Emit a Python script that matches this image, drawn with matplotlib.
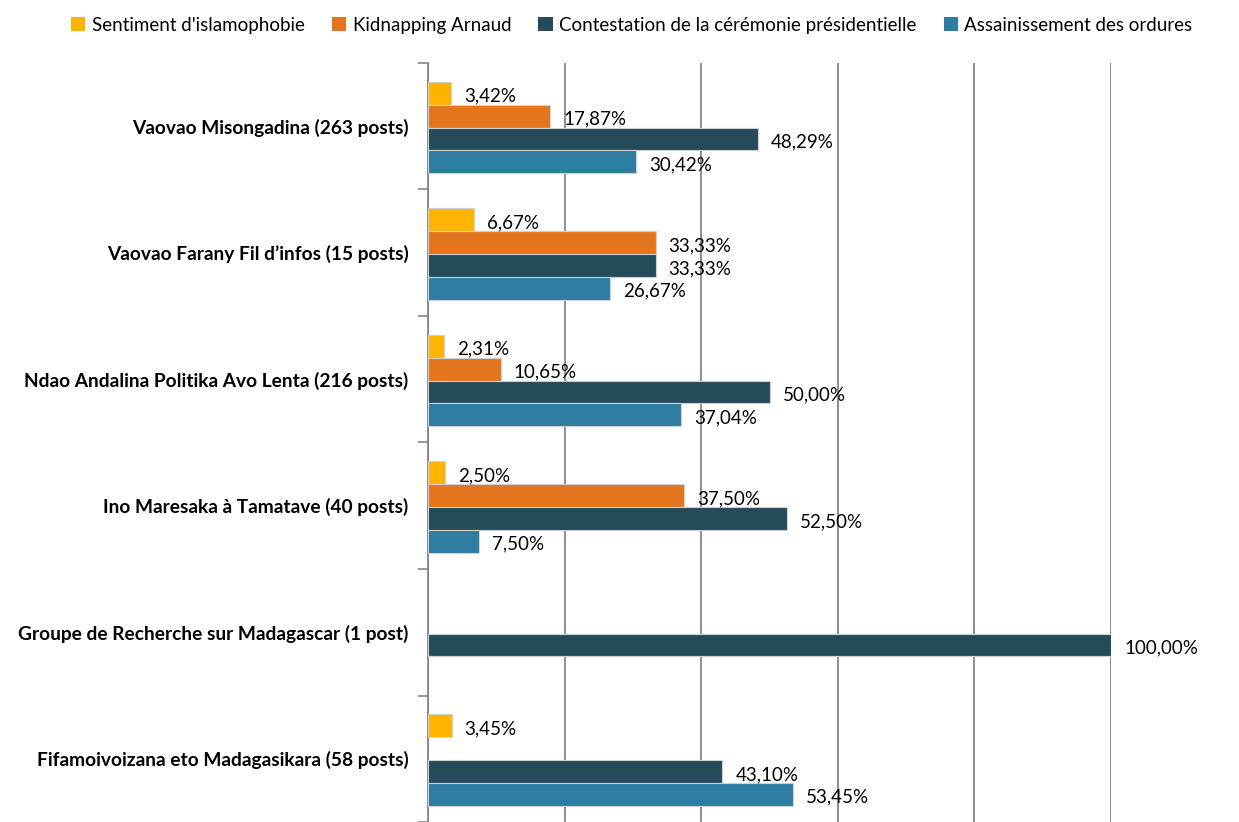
import matplotlib
matplotlib.use("Agg")
import matplotlib.pyplot as plt
import numpy as np
from matplotlib.patches import Patch

plt.rcParams['font.family'] = ['Lato', 'DejaVu Sans']

categories = [
    "Vaovao Misongadina (263 posts)",
    "Vaovao Farany Fil d\u2019infos (15 posts)",
    "Ndao Andalina Politika Avo Lenta (216 posts)",
    "Ino Maresaka \u00e0 Tamatave (40 posts)",
    "Groupe de Recherche sur Madagascar (1 post)",
    "Fifamoivoizana eto Madagasikara (58 posts)",
]
series_names = [
    "Sentiment d'islamophobie",
    "Kidnapping Arnaud",
    "Contestation de la c\u00e9r\u00e9monie pr\u00e9sidentielle",
    "Assainissement des ordures",
]
islamophobie = [3.42, 6.67, 2.31, 2.50, None, 3.45]
kidnapping = [17.87, 33.33, 10.65, 37.50, None, None]
contestation = [48.29, 33.33, 50.00, 52.50, 100.00, 43.10]
assainissement = [30.42, 26.67, 37.04, 7.50, None, 53.45]
colors = ["#FFB400", "#E3751F", "#254A59", "#2E7DA1"]

series = [islamophobie, kidnapping, contestation, assainissement]

fig = plt.figure(figsize=(12.39, 8.22), dpi=100)
ax = fig.add_axes([428/1239, 0.0, (1111-428)/1239, (822-63)/822])

n = len(categories)
bh = 0.18
y = np.arange(n)
for i, (vals, col) in enumerate(zip(series, colors)):
    pos = y + (i - 1.5) * bh + 0.01
    for p, v in zip(pos, vals):
        if v is None:
            continue
        ax.barh(p, v, height=bh, color=col, edgecolor="#d0d0d0", linewidth=0.8, zorder=3)
        ax.annotate(f"{v:.2f}%".replace(".", ","), xy=(v, p), xytext=(13, -3),
                    textcoords="offset pixels",
                    va="center", ha="left", fontsize=13.5, color="black", zorder=4)

ax.set_xlim(0, 100)
ax.set_ylim(n - 0.5, -0.5)
ax.set_xticks([0, 20, 40, 60, 80, 100])
ax.tick_params(axis="x", length=0, labelbottom=False)
ax.grid(axis="x", color="#868686", linewidth=1.3, zorder=0)
ax.set_axisbelow(True)

ax.set_yticks(y)
ax.set_yticklabels(categories, fontweight="bold", fontsize=13.8)
ax.set_yticks(np.arange(n + 1) - 0.5, minor=True)
ax.tick_params(axis="y", which="major", length=0, pad=14)
ax.tick_params(axis="y", which="minor", length=7, width=1.2, color="#868686")

for s in ["top", "right", "bottom"]:
    ax.spines[s].set_visible(False)
ax.spines["left"].set_color("#868686")
ax.spines["left"].set_linewidth(1.3)

handles = [Patch(facecolor=c, edgecolor="none") for c in colors]
fig.legend(handles, series_names, loc="upper center", bbox_to_anchor=(0.51, 1.0),
           ncol=4, frameon=False, fontsize=13.5, handlelength=0.75, handleheight=0.75,
           handletextpad=0.35, columnspacing=1.45)

fig.savefig("out.png", dpi=100)
